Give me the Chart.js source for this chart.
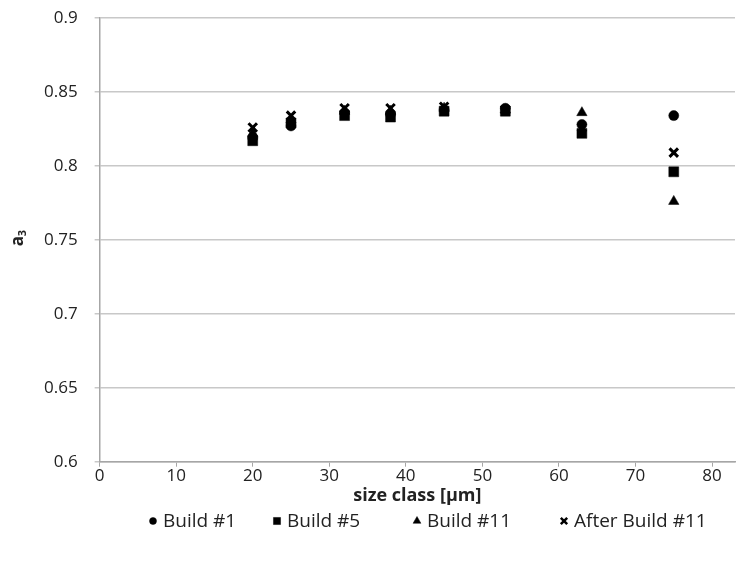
<!DOCTYPE html>
<html>
<head>
<meta charset="utf-8">
<script src="https://cdn.jsdelivr.net/npm/chart.js@4.4.1/dist/chart.umd.min.js"></script>
<style>
  html, body { margin: 0; padding: 0; background: #fff; }
  #wrap { width: 737px; height: 561px; position: relative; }
</style>
</head>
<body>
<div id="wrap"><canvas id="sizeChart" width="737" height="561"></canvas></div>
<script>
// size classes (µm)
const sizeClasses = [20, 25, 32, 38, 45, 53, 63, 75];

// a3 values per build
const build1 = [0.819, 0.827, 0.836, 0.835, 0.838, 0.839, 0.828, 0.834];
const build5 = [0.817, 0.829, 0.834, 0.833, 0.837, 0.837, 0.822, 0.796];
const build11 = [0.822, 0.831, 0.837, 0.837, 0.839, 0.838, 0.836, 0.776];
const afterBuild11 = [0.826, 0.834, 0.839, 0.839, 0.840, 0.838, 0.826, 0.809];

const seriesNames = ['Build #1', 'Build #5', 'Build #11', 'After Build #11'];
const yTicks = [0.6, 0.65, 0.7, 0.75, 0.8, 0.85, 0.9];

const FONT = "'Open Sans', 'Liberation Sans', sans-serif";
const TEXT = '#222';

function toPoints(vals) {
  return vals.map((v, i) => ({ x: sizeClasses[i], y: v }));
}

function makeSet(name, vals, style, order, radius) {
  return {
    label: name,
    data: toPoints(vals),
    pointStyle: style,
    pointRadius: radius,
    pointHoverRadius: radius,
    backgroundColor: '#000',
    borderColor: '#000',
    borderWidth: style === 'crossRot' ? 3 : 0.5,
    showLine: false,
    order: order
  };
}

// y축 제목 (a3, 아래첨자)
const yTitlePlugin = {
  id: 'yTitle',
  afterDraw(chart) {
    const ctx = chart.ctx;
    ctx.save();
    ctx.translate(18, 238);
    ctx.rotate(-Math.PI / 2);
    ctx.fillStyle = TEXT;
    ctx.textAlign = 'center';
    ctx.textBaseline = 'middle';
    ctx.font = "bold 17px " + FONT;
    ctx.fillText('a', -3, 0);
    ctx.font = "bold 11px " + FONT;
    ctx.fillText('3', 5, 5);
    ctx.restore();
  }
};

// 범례 직접 그리기
const legendX = [153, 277, 417, 564];
const legendPlugin = {
  id: 'ownLegend',
  afterDraw(chart) {
    const ctx = chart.ctx;
    const y = 521;
    ctx.save();
    chart.data.datasets.forEach((ds, i) => {
      const cx = legendX[i];
      ctx.fillStyle = '#000';
      ctx.strokeStyle = '#000';
      ctx.lineWidth = ds.pointStyle === 'crossRot' ? 2.5 : 0.5;
      const r = { circle: 3.5, rect: 5, triangle: 4.5, crossRot: 4.5 }[ds.pointStyle];
      Chart.helpers.drawPoint(ctx, { pointStyle: ds.pointStyle, radius: r, rotation: 0, borderWidth: ctx.lineWidth }, cx, y);
      ctx.fillStyle = TEXT;
      ctx.font = "19px " + FONT;
      ctx.textAlign = 'left';
      ctx.textBaseline = 'middle';
      ctx.fillText(ds.label, cx + 10, y + 1);
    });
    ctx.restore();
  }
};

new Chart(document.getElementById('sizeChart').getContext('2d'), {
  type: 'scatter',
  data: {
    datasets: [
      makeSet(seriesNames[0], build1, 'circle', 4, 5),
      makeSet(seriesNames[1], build5, 'rect', 3, 7),
      makeSet(seriesNames[2], build11, 'triangle', 2, 6),
      makeSet(seriesNames[3], afterBuild11, 'crossRot', 1, 6)
    ]
  },
  options: {
    responsive: false,
    animation: false,
    layout: { autoPadding: false, padding: { left: 27, right: 2, top: 18, bottom: 50 } },
    plugins: {
      tooltip: { enabled: false },
      legend: { display: false }
    },
    scales: {
      x: {
        type: 'linear',
        min: 0,
        max: 83,
        afterFit(scale) {
          scale.paddingLeft = 0;
          scale.paddingRight = 0;
        },
        border: { color: '#a6a6a6', width: 1.5 },
        grid: { drawOnChartArea: false, drawTicks: true, tickLength: 5, color: '#a6a6a6' },
        ticks: {
          stepSize: 10,
          includeBounds: false,
          color: TEXT,
          font: { family: FONT, size: 17, lineHeight: 1.1 },
          padding: 0
        },
        title: {
          display: true,
          text: 'size class [μm]',
          color: TEXT,
          font: { family: FONT, size: 18, weight: 'bold' },
          padding: { top: 0, bottom: 4 }
        }
      },
      y: {
        min: 0.6,
        max: 0.9,
        afterBuildTicks(scale) {
          scale.ticks = yTicks.map(v => ({ value: v }));
        },
        afterFit(scale) {
          scale.paddingTop = 0;
          scale.paddingBottom = 0;
        },
        border: { color: '#a6a6a6', width: 1.5 },
        grid: { color: '#c8c8c8', lineWidth: 1.5, tickLength: 5 },
        ticks: {
          color: TEXT,
          font: { family: FONT, size: 17 },
          padding: 17,
          callback: v => String(+v.toFixed(2))
        }
      }
    }
  },
  plugins: [yTitlePlugin, legendPlugin]
});
</script>
</body>
</html>
